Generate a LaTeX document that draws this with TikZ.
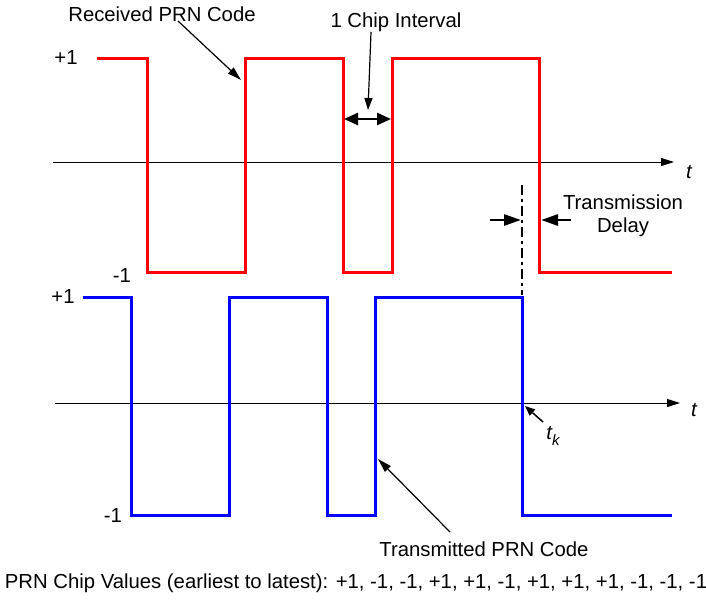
\documentclass[tikz,border=0pt]{standalone}
\usepackage{fontspec}
\setmainfont{Liberation Sans}
\usetikzlibrary{arrows.meta}
\tikzset{
  received/.style={red, line width=3pt},
  transmitted/.style={blue, line width=3pt},
  axis/.style={line width=1pt, -{Triangle[length=13pt,width=8pt]}},
  pointer/.style={line width=1.2pt, -{Triangle[length=14pt,width=8pt]}},
  thickptr/.style={line width=2.8pt, -{Triangle[length=17pt,width=11pt]}},
  lbl/.style={font=\fontsize{20.3}{23}\selectfont, inner sep=0pt},
}
\begin{document}
\begin{tikzpicture}[x=1pt,y=-1pt]
\useasboundingbox (0,0) rectangle (706,600);
% time axes
\draw[axis] (53,162) -- (674,162);
\node[lbl] (rt) at (689,172) {\itshape t};
\draw[axis] (55,403) -- (680,403);
\node[lbl] (bt) at (694,410) {\itshape t};

% received code
\draw[received] (97,58) -- (147,58) -- (147,272) -- (245,272) -- (245,58) -- (343,58)
  -- (343,272) -- (392,272) -- (392,58) -- (539,58) -- (539,272) -- (672,272);
\node[lbl] (rhi) at (66,58) {+1};
\node[lbl] (rlo) at (122,276) {-1};

% transmitted code
\draw[transmitted] (83,297) -- (131,297) -- (131,515) -- (229,515) -- (229,297) -- (327,297)
  -- (327,515) -- (375,515) -- (375,297) -- (522,297) -- (522,515) -- (672,515);
\node[lbl] (bhi) at (63,297) {+1};
\node[lbl] (blo) at (113,516) {-1};

% received label
\node[lbl] (rlabel) at (162,14) {Received PRN Code};
\coordinate (rfoot) at (178,21);
\coordinate (redge) at (241,80);
\draw[pointer] (rfoot) -- (redge);

% chip interval
\node[lbl] (chip) at (396,22) {1 Chip Interval};
\coordinate (cfoot) at (371,32);
\coordinate (cmid) at (368,110);
\coordinate (cleft) at (344,119);
\coordinate (cright) at (391,119);
\draw[pointer, -{Triangle[length=12pt,width=8pt]}] (cfoot) -- (cmid);
\draw[line width=2.5pt, {Triangle[length=14pt,width=12pt]}-{Triangle[length=14pt,width=12pt]}] (cleft) -- (cright);

% transmission delay
\coordinate (dtop) at (522,185);
\coordinate (dbot) at (522,295);
\draw[line width=2.2pt, dash pattern=on 10pt off 4pt on 3pt off 4pt] (dtop) -- (dbot);
\coordinate (dlin) at (490,220);
\coordinate (dlend) at (521,220);
\coordinate (drin) at (571,220);
\coordinate (drend) at (541,220);
\draw[thickptr] (dlin) -- (dlend);
\draw[thickptr] (drin) -- (drend);
\node[lbl, align=center] (delay) at (623,216) {Transmission\\Delay};

% t_k
\node[lbl] (tk) at (553,436) {\itshape t\raisebox{-6pt}{\fontsize{15}{15}\selectfont k}};
\coordinate (tkfoot) at (543,422);
\coordinate (tkpt) at (525,406);
\draw[line width=1.5pt, -{Triangle[length=10pt,width=8pt]}] (tkfoot) -- (tkpt);

% transmitted label
\node[lbl] (tlabel) at (484,549) {Transmitted PRN Code};
\coordinate (tfoot) at (450,532);
\coordinate (bedge) at (378,459);
\draw[pointer] (tfoot) -- (bedge);

% chip values
\node[lbl] (values) at (356,583) {PRN Chip Values (earliest to latest): +1, -1, -1, +1, +1, -1, +1, +1, +1, -1, -1, -1};
\end{tikzpicture}
\end{document}
